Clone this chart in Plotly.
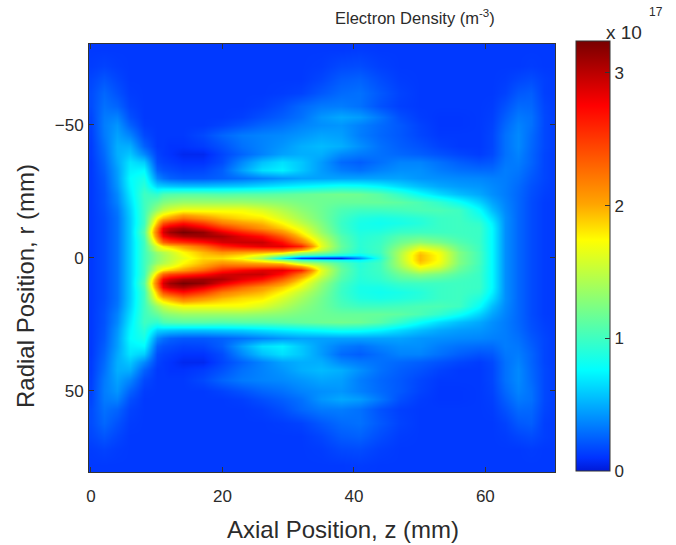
import plotly.graph_objects as go

z_mm = [0,2,4,6,8,10,11,12,14,17,20,23,26,29,32,35,38,41,44,47,50,53,56,59,61,63,65,67,69,71]
r_mm = [0,1,2,3,4.5,6,8,9.5,11,13,15,18,21,24,27,30,33,36,39,42,46,50,53,57,62,67,72,78,82]

# electron density (1e17 m^-3); one row per radius, r >= 0
density = [
 [.12,.18,.30,.60,1.0, 1.3,1.4,1.5,1.65,1.85,1.85,1.7,1.4,.7,.12,.03,.03,.4,.9,1.45,1.95,1.72,1.25,1.02,.75,.4,.27,.18,.13,.12],
 [.12,.18,.30,.60,1.0, 1.3,1.4,1.5,1.7,1.9,1.95,1.85,1.65,1.35,1.05,.95,.85,.75,.95,1.45,1.95,1.72,1.25,1.02,.75,.4,.27,.18,.13,.12],
 [.12,.18,.30,.60,1.0, 1.35,1.45,1.55,1.75,1.95,2.1,2.05,2.0,1.9,1.5,1.3,1.05,.9,1.0,1.42,1.88,1.68,1.25,1.02,.75,.4,.27,.18,.13,.12],
 [.12,.18,.30,.60,1.0, 1.5,1.6,1.65,1.85,2.05,2.3,2.3,2.3,2.3,2.0,1.5,1.1,.9,1.0,1.38,1.75,1.6,1.2,1.0,.75,.4,.27,.18,.13,.12],
 [.12,.18,.30,.60,1.0, 1.6,1.8,1.9,2.05,2.3,2.6,2.75,2.85,2.85,2.6,1.65,1.15,.92,1.0,1.28,1.55,1.42,1.15,1.0,.75,.4,.27,.18,.13,.12],
 [.12,.18,.30,.60,1.0, 1.9,2.3,2.45,2.55,2.7,2.9,2.95,2.95,2.7,2.2,1.6,1.12,.92,.98,1.18,1.3,1.22,1.08,.98,.75,.4,.27,.18,.13,.12],
 [.12,.18,.30,.60,1.05, 2.2,2.75,2.9,3.05,3.1,3.05,2.85,2.7,2.35,1.9,1.45,1.08,.9,.95,1.08,1.12,1.08,1.02,.98,.75,.4,.27,.18,.13,.12],
 [.12,.18,.30,.60,1.1, 2.3,2.9,3.1,3.24,3.15,2.85,2.6,2.4,2.1,1.75,1.35,1.02,.88,.9,.98,1.0,1.0,1.0,.98,.75,.4,.27,.18,.13,.12],
 [.12,.18,.30,.60,1.05, 2.2,2.8,2.95,3.05,2.85,2.55,2.3,2.1,1.9,1.65,1.3,1.0,.85,.85,.92,.95,.98,1.0,.98,.75,.4,.27,.18,.13,.12],
 [.12,.18,.30,.60,1.0, 1.95,2.4,2.55,2.7,2.5,2.2,2.05,1.95,1.75,1.5,1.25,.98,.85,.82,.85,.9,.98,1.0,.95,.72,.4,.27,.18,.13,.12],
 [.12,.18,.30,.60,1.0, 1.75,1.95,2.05,2.25,2.1,1.95,1.85,1.8,1.6,1.4,1.2,1.0,.88,.85,.88,.92,.98,1.0,.88,.66,.4,.27,.18,.13,.12],
 [.12,.19,.32,.62,1.0, 1.35,1.5,1.6,1.7,1.7,1.7,1.7,1.6,1.45,1.3,1.18,1.05,1.0,1.0,1.02,1.05,1.05,1.0,.78,.55,.38,.27,.18,.13,.12],
 [.12,.20,.36,.66,1.0, 1.15,1.25,1.3,1.35,1.35,1.35,1.35,1.32,1.28,1.22,1.18,1.15,1.15,1.15,1.12,1.05,.95,.8,.62,.47,.36,.27,.18,.13,.12],
 [.12,.20,.38,.70,1.0, .95,1.05,1.08,1.1,1.1,1.08,1.1,1.1,1.12,1.15,1.18,1.2,1.18,1.1,.95,.78,.65,.55,.48,.4,.34,.27,.19,.14,.12],
 [.12,.21,.42,.74,.92, .62,.6,.58,.56,.56,.58,.6,.65,.7,.74,.78,.82,.8,.74,.64,.55,.48,.44,.42,.38,.34,.28,.2,.15,.12],
 [.12,.22,.44,.76,.85, .38,.3,.25,.22,.22,.25,.3,.36,.42,.46,.46,.46,.46,.46,.46,.42,.4,.38,.37,.35,.34,.3,.22,.16,.12],
 [.12,.24,.45,.72,.75, .25,.2,.18,.15,.16,.24,.46,.66,.72,.58,.44,.34,.3,.36,.4,.4,.34,.3,.28,.28,.34,.32,.24,.16,.12],
 [.12,.26,.48,.68,.60, .18,.15,.13,.1,.1,.18,.38,.56,.66,.58,.44,.28,.24,.3,.36,.36,.3,.24,.2,.22,.32,.34,.26,.16,.12],
 [.13,.28,.50,.58,.38, .15,.12,.1,.06,.06,.16,.26,.36,.46,.5,.5,.38,.33,.3,.27,.24,.2,.16,.13,.17,.3,.36,.26,.16,.12],
 [.13,.30,.50,.50,.25, .12,.12,.1,.1,.13,.2,.3,.36,.42,.5,.54,.5,.4,.3,.24,.2,.15,.12,.12,.16,.3,.38,.27,.17,.12],
 [.14,.33,.46,.36,.17, .12,.12,.12,.12,.17,.26,.33,.36,.38,.42,.47,.45,.34,.27,.22,.16,.12,.12,.12,.16,.3,.38,.28,.17,.12],
 [.15,.34,.42,.25,.13, .12,.12,.12,.12,.12,.15,.2,.26,.3,.36,.4,.42,.35,.28,.22,.15,.11,.11,.12,.15,.27,.36,.3,.17,.12],
 [.16,.33,.36,.19,.12, .12,.12,.12,.12,.12,.12,.14,.19,.24,.3,.42,.48,.44,.32,.19,.13,.11,.11,.12,.14,.24,.33,.3,.17,.12],
 [.18,.30,.26,.15,.12, .12,.12,.12,.12,.12,.12,.12,.14,.19,.27,.33,.34,.3,.2,.14,.12,.12,.12,.12,.13,.2,.28,.27,.16,.12],
 [.18,.27,.20,.13,.12, .12,.12,.12,.12,.12,.12,.12,.12,.13,.15,.22,.28,.3,.22,.15,.12,.12,.12,.12,.12,.15,.22,.24,.14,.12],
 [.16,.21,.16,.12,.12, .12,.12,.12,.12,.12,.12,.12,.12,.12,.12,.16,.23,.25,.18,.13,.12,.12,.12,.12,.12,.13,.16,.18,.14,.12],
 [.13,.15,.13,.12,.12, .12,.12,.12,.12,.12,.12,.12,.12,.12,.12,.13,.17,.18,.14,.12,.12,.12,.12,.12,.12,.12,.12,.13,.12,.12],
 [.12,.12,.12,.12,.12, .12,.12,.12,.12,.12,.12,.12,.12,.12,.12,.12,.12,.13,.12,.12,.12,.12,.12,.12,.12,.12,.12,.12,.12,.12],
 [.12,.12,.12,.12,.12, .12,.12,.12,.12,.12,.12,.12,.12,.12,.12,.12,.12,.12,.12,.12,.12,.12,.12,.12,.12,.12,.12,.12,.12,.12],
]

x_ticks = [0, 20, 40, 60]
r_ticks = [-50, 0, 50]
cb_ticks = [0, 1, 2, 3]
cb_max = 3.24

# symmetric about the axis r = 0
r_full = [-r for r in r_mm[:0:-1]] + r_mm
z_full = density[:0:-1] + density

jet = [
 [0.0,  "rgb(0,25,215)"],
 [0.03, "rgb(0,50,255)"],
 [0.235,"rgb(0,255,255)"],
 [0.386,"rgb(128,255,128)"],
 [0.537,"rgb(255,255,0)"],
 [0.62, "rgb(255,165,0)"],
 [0.85, "rgb(255,0,0)"],
 [1.0,  "rgb(120,0,0)"],
]

FONT = "Liberation Sans, Arial, sans-serif"
INK = "#2b2b2b"
AX = "#333333"

fig = go.Figure(go.Heatmap(
    x=z_mm, y=r_full, z=z_full, zmin=0, zmax=cb_max, zsmooth="best",
    colorscale=jet,
    colorbar=dict(
        x=1.045, xanchor="left", thickness=34, thicknessmode="pixels",
        y=1.007, yanchor="top", len=1.005, lenmode="fraction",
        xpad=0, ypad=0, outlinecolor=AX, outlinewidth=1,
        tickmode="array", tickvals=cb_ticks, ticks="inside", ticklen=5,
        tickcolor=AX, tickfont=dict(family=FONT, size=17, color=INK),
    ),
))

fig.update_xaxes(
    range=[-0.3, 70.6], tickmode="array", tickvals=x_ticks, ticks="inside", ticklen=5,
    tickcolor=AX, showline=True, linecolor=AX, linewidth=1, mirror="ticks",
    showgrid=False, zeroline=False, ticklabelstandoff=9, automargin=False,
    tickfont=dict(family=FONT, size=17, color=INK),
)
fig.update_yaxes(
    range=[80.5, -80.3], tickmode="array", tickvals=r_ticks, ticktext=["\u221250", "0", "50"],
    ticks="inside", ticklen=5, tickcolor=AX, showline=True, linecolor=AX, linewidth=1,
    mirror="ticks", showgrid=False, zeroline=False, ticklabelstandoff=1, automargin=False,
    tickfont=dict(family=FONT, size=17, color=INK),
)

def note(px, py, text, size, anchor="left", angle=0):
    return dict(xref="paper", yref="paper", x=(px-89)/466, y=(472-py)/428, text=text,
                showarrow=False, xanchor=anchor, yanchor="middle", textangle=angle,
                font=dict(family=FONT, size=size, color=INK))

# left-hand colorbar ticks, placed through the colorbar's own scale
cb_bottom, cb_height = (472-471)/428, 430/428
left_ticks = [dict(type="line", xref="paper", yref="paper",
                   x0=(576-89)/466, x1=(581-89)/466,
                   y0=cb_bottom + cb_height*v/cb_max, y1=cb_bottom + cb_height*v/cb_max,
                   line=dict(color=AX, width=1)) for v in cb_ticks[1:]]

fig.update_layout(
    width=676, height=545, autosize=False,
    margin=dict(l=89, r=121, t=44, b=73),
    paper_bgcolor="white", plot_bgcolor="white",
    shapes=left_ticks,
    annotations=[
        note(333, 17, "Electron Density (m<sup>-3</sup>)", 16.5),
        note(604, 32, "x 10", 19),
        note(647, 12, "17", 12),
        note(343, 529, "Axial Position, z (mm)", 24, anchor="center"),
        note(25, 286, "Radial Position, r (mm)", 24, anchor="center", angle=-90),
    ],
)

fig.write_html("out.html", config={"displayModeBar": False},
               post_script="document.body.style.margin='0';document.documentElement.style.overflow='hidden';")
